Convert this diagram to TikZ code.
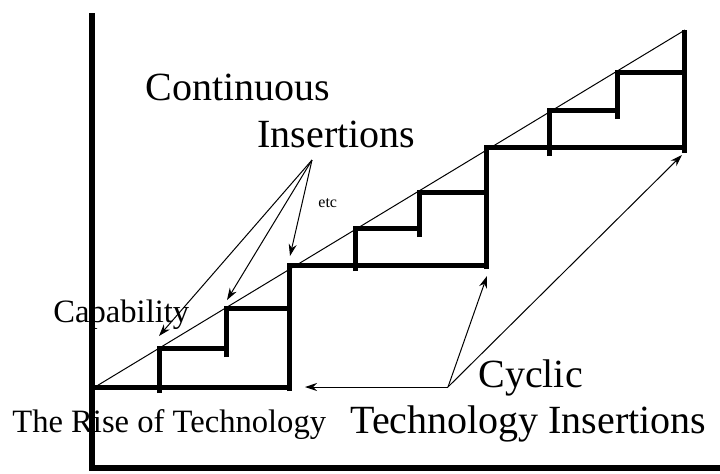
\documentclass[tikz,border=0pt]{standalone}
\usepackage{fontspec}
\setmainfont{Liberation Serif}
\usepackage{tikz}
\usetikzlibrary{arrows.meta}

\begin{document}
\begin{tikzpicture}[x=0.5pt,y=-0.5pt]

    % Define styles
    \tikzstyle{axis} = [line width=3pt]
    \tikzstyle{stair} = [line width=2.5pt]
    \tikzstyle{trend} = [line width=0.5pt]
    \tikzstyle{pointer} = [line width=0.5pt, -{Stealth[length=6pt,width=4pt]}]
    \tikzstyle{biglabel} = [inner sep=0pt, anchor=base west, font=\fontsize{20}{24}\selectfont]
    \tikzstyle{midlabel} = [inner sep=0pt, anchor=base west, font=\fontsize{16.3}{19}\selectfont]
    \tikzstyle{tinylabel} = [inner sep=0pt, anchor=base west, font=\fontsize{8}{9}\selectfont]

    \useasboundingbox (0,0) rectangle (720,473);

    % Axes
    \draw [axis] (92,13) -- (92,468) -- (720,468);

    % First cycle
    \draw [stair] (92,387) -- (290,387);
    \draw [stair] (160,393) -- (160,348) -- (227,348);
    \draw [stair] (227,357) -- (227,308) -- (290,308);
    \draw [stair] (290,391) -- (290,265) -- (487,265);

    % Second cycle
    \draw [stair] (356,271) -- (356,228) -- (420,228);
    \draw [stair] (420,237) -- (420,192) -- (487,192);
    \draw [stair] (487,269) -- (487,147) -- (685,147);

    % Third cycle
    \draw [stair] (550,156) -- (550,110) -- (618,110);
    \draw [stair] (618,119) -- (618,72) -- (685,72);
    \draw [stair] (685,153) -- (685,30);

    % Capability line
    \coordinate (start) at (95,387);
    \coordinate (peak) at (685,30);
    \draw [trend] (start) -- (peak);

    % Labels
    \node [biglabel] (continuous) at (145,100) {Continuous};
    \node [biglabel] (insertions) at (257,147) {Insertions};
    \node [tinylabel] (etc) at (318,207) {etc};
    \node [midlabel] (capability) at (53,322) {Capability};
    \node [midlabel] (rise) at (12,432) {The Rise of Technology};
    \node [biglabel] (cyclic) at (478,387) {Cyclic};
    \node [biglabel] (techins) at (350,433) {Technology Insertions};

    % Continuous insertion pointers
    \coordinate (cont) at (312,160);
    \coordinate (conta) at (159,336);
    \coordinate (contb) at (227,300);
    \coordinate (contc) at (290,256);
    \draw [pointer] (cont) -- (conta);
    \draw [pointer] (cont) -- (contb);
    \draw [pointer] (cont) -- (contc);

    % Cyclic insertion pointers
    \coordinate (cyc) at (448,387);
    \coordinate (cyca) at (305,387);
    \coordinate (cycb) at (487,276);
    \coordinate (cycc) at (682,155);
    \draw [pointer] (cyc) -- (cyca);
    \draw [pointer] (cyc) -- (cycb);
    \draw [pointer] (cyc) -- (cycc);

\end{tikzpicture}
\end{document}
